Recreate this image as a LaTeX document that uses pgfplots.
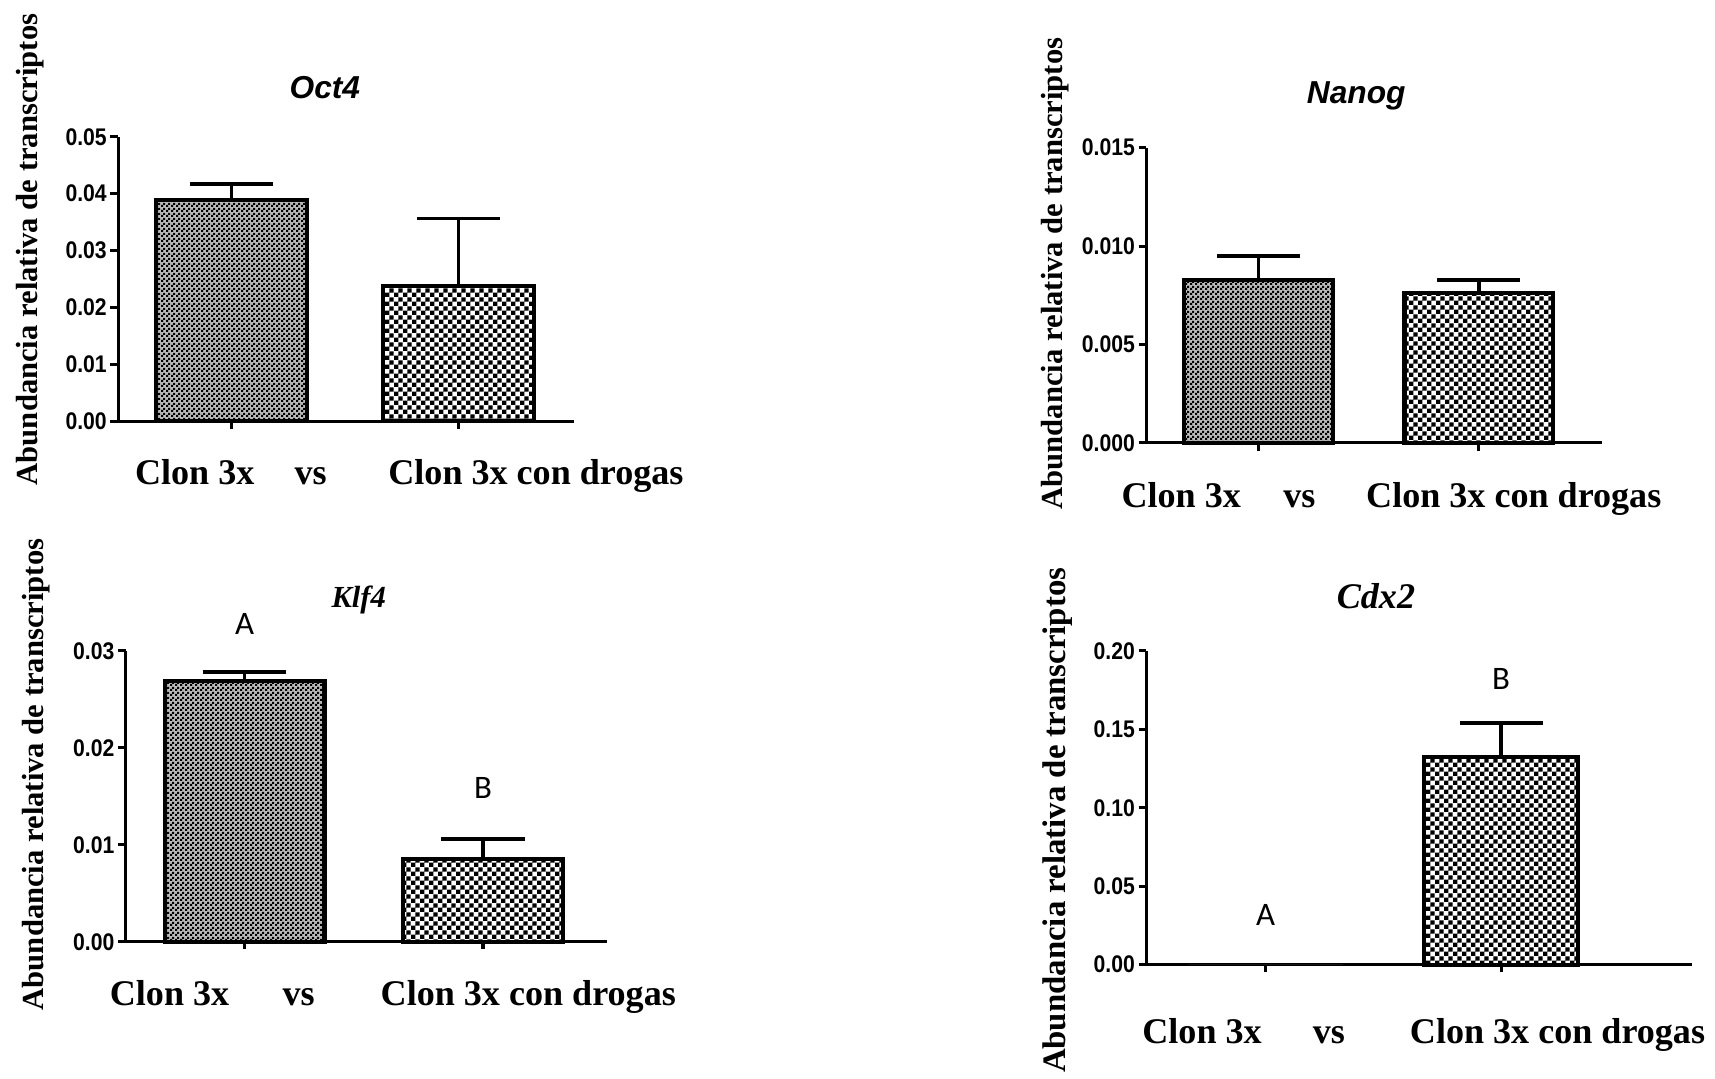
\documentclass[border=0pt]{standalone}
\usepackage{fontspec}
\setmainfont{Liberation Serif}
\newfontfamily\arialfont{Liberation Sans}
\newfontfamily\tickfont[FakeStretch=0.88]{Liberation Sans}
\newfontfamily\califont{Carlito}
\usepackage{pgfplots}
\pgfplotsset{compat=1.18}
\usetikzlibrary{patterns}

\pgfdeclarepatternformonly{finecheck}{\pgfpointorigin}{\pgfqpoint{2.1pt}{2.1pt}}{\pgfqpoint{2.1pt}{2.1pt}}{%
 \pgfpathrectangle{\pgfpointorigin}{\pgfqpoint{1.05pt}{1.05pt}}%
 \pgfpathrectangle{\pgfqpoint{1.05pt}{1.05pt}}{\pgfqpoint{1.05pt}{1.05pt}}%
 \pgfusepath{fill}}
\pgfdeclarepatternformonly{coarsecheck}{\pgfpointorigin}{\pgfqpoint{4pt}{4pt}}{\pgfqpoint{4pt}{4pt}}{%
 \pgfpathrectangle{\pgfpointorigin}{\pgfqpoint{2pt}{2pt}}%
 \pgfpathrectangle{\pgfqpoint{2pt}{2pt}}{\pgfqpoint{2pt}{2pt}}%
 \pgfusepath{fill}}

\pgfplotsset{
 panel/.style={
   scale only axis, axis x line*=bottom, axis y line*=left,
   axis line style={line width=1.4pt,-},
   tick align=outside, major tick length=3.5pt,
   tick style={line width=1.4pt, black},
   ymin=0, xtick={0,1}, xticklabels={},
   scaled y ticks=false,
   yticklabel style={font=\tickfont\bfseries\fontsize{11}{11}\selectfont, inner sep=1.5pt},
   ybar, clip=false, anchor=south west,
 },
 bb/.style={bar shift=0pt, draw=black, line width=1.9pt, mark=none,
   error bars/y dir=plus, error bars/y explicit, error bars/error mark=|,
   error bars/error bar style={line width=1.6pt, black, solid},
   error bars/error mark options={line width=1.6pt, mark size=19pt, black, solid}},
 b1/.style={bb, preaction={fill=gray!55}, pattern=finecheck},
 b2/.style={bb, fill=white, pattern=coarsecheck},
}

\begin{document}
\begin{tikzpicture}
\useasboundingbox (0,0) rectangle (784pt,493pt);

% Oct4
\begin{axis}[panel, at={(54pt,300.5pt)}, width=208.5pt, height=130pt,
  xmin=-0.5, xmax=1.51, ymax=0.05, bar width=0.663,
  ytick={0,0.01,0.02,0.03,0.04,0.05},
  yticklabels={0.00,0.01,0.02,0.03,0.04,0.05}]
\addplot[b1] coordinates {(0,0.0388) +- (0,0.0029)};
\addplot[b2] coordinates {(1,0.0238) +- (0,0.0118)};
\end{axis}

% Nanog
\begin{axis}[panel, at={(524pt,290.5pt)}, width=208.5pt, height=135pt,
  xmin=-0.509, xmax=1.56, ymax=0.015, bar width=0.675,
  ytick={0,0.005,0.01,0.015},
  yticklabels={0.000,0.005,0.010,0.015}]
\addplot[b1] coordinates {(0,0.00828) +- (0,0.00122)};
\addplot[b2] coordinates {(1,0.00761) +- (0,0.00067)};
\end{axis}

% Klf4
\begin{axis}[panel, at={(57.5pt,62.5pt)}, width=220pt, height=133pt,
  xmin=-0.498, xmax=1.52, ymax=0.03, bar width=0.67,
  ytick={0,0.01,0.02,0.03},
  yticklabels={0.00,0.01,0.02,0.03}]
\addplot[b1] coordinates {(0,0.0269) +- (0,0.0009)};
\addplot[b2] coordinates {(1,0.0085) +- (0,0.0021)};
\node[font=\califont\fontsize{15}{15}\selectfont] at (axis cs:0,0.0328) {A};
\node[font=\califont\fontsize{15}{15}\selectfont] at (axis cs:1,0.0159) {B};
\end{axis}

% Cdx2
\begin{axis}[panel, at={(524pt,52pt)}, width=249.5pt, height=143.5pt,
  xmin=-0.506, xmax=1.81, ymax=0.2, bar width=0.654,
  ytick={0,0.05,0.1,0.15,0.2},
  yticklabels={0.00,0.05,0.10,0.15,0.20}]
\addplot[b1, draw=none, preaction={}] coordinates {(0,0)};
\addplot[b2] coordinates {(1,0.1324) +- (0,0.0216)};
\node[font=\califont\fontsize{15}{15}\selectfont] at (axis cs:0,0.0314) {A};
\node[font=\califont\fontsize{15}{15}\selectfont] at (axis cs:1,0.182) {B};
\end{axis}

% titles
\node[font=\arialfont\bfseries\itshape\fontsize{14.5}{14.5}\selectfont] at (148.5pt,453pt) {Oct4};
\node[font=\arialfont\bfseries\itshape\fontsize{14.5}{14.5}\selectfont] at (620pt,449pt) {Nanog};
\node[font=\bfseries\itshape\fontsize{14}{14}\selectfont] at (164pt,218.5pt) {Klf4};
\node[font=\bfseries\itshape\fontsize{16.5}{16.5}\selectfont] at (629pt,220.5pt) {Cdx2};

% x labels
\tikzset{xl/.style={font=\bfseries\fontsize{16.5}{16.5}\selectfont, inner sep=0pt, anchor=base}}
\node[xl] at (89pt,271.5pt) {Clon 3x};
\node[xl] at (142pt,271.5pt) {vs};
\node[xl] at (245pt,271.5pt) {Clon 3x con drogas};
\node[xl] at (540pt,261pt) {Clon 3x};
\node[xl] at (594pt,261pt) {vs};
\node[xl] at (692pt,261pt) {Clon 3x con drogas};
\node[xl] at (77.5pt,33.5pt) {Clon 3x};
\node[xl] at (136.5pt,33.5pt) {vs};
\node[xl] at (241.5pt,33.5pt) {Clon 3x con drogas};
\node[xl] at (549.5pt,16pt) {Clon 3x};
\node[xl] at (607.5pt,16pt) {vs};
\node[xl] at (712pt,16pt) {Clon 3x con drogas};

% y labels
\tikzset{yl/.style={font=\bfseries\fontsize{14}{14}\selectfont, rotate=90, inner sep=0pt}}
\node[yl] at (14pt,379pt) {Abundancia relativa de transcriptos};
\node[yl] at (482.5pt,368pt) {Abundancia relativa de transcriptos};
\node[yl] at (16.5pt,139pt) {Abundancia relativa de transcriptos};
\node[yl, font=\bfseries\fontsize{15}{15}\selectfont] at (483.5pt,118pt) {Abundancia relativa de transcriptos};
\end{tikzpicture}
\end{document}
